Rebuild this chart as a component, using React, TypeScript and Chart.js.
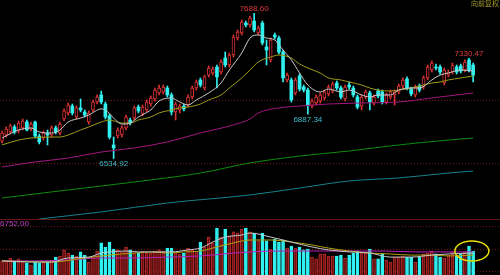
import React, { useEffect, useRef } from "react";
import { Chart, registerables } from "chart.js";

Chart.register(...registerables);

// ---------- layout of the index axis ----------
const SLOTS = 121;
const PRICE_MIN = 6055;
const PRICE_MAX = 7794;
const VOL_MIN = 0.844;
const VOL_MAX = 3.333;

// ---------- daily candles ----------
const opens = [
  6674, 6722, 6746, 6786, 6754, 6778, 6825, 6770, 6825, 6714,
  6698, 6738, 6722, 6778, 6738, 6849, 6897, 6952, 6865, 6937,
  6905, 6825, 6921, 6984, 7040, 6968, 6873, 6643, 6714, 6722,
  6778, 6841, 6857, 6944, 6889, 6921, 6968, 7008, 7056, 7064,
  7095, 7040, 6905, 6921, 6952, 6960, 7024, 7095, 7159, 7095,
  7198, 7214, 7262, 7222, 7333, 7278, 7357, 7492, 7532, 7611,
  7596, 7627, 7532, 7611, 7421, 7318, 7516, 7492, 7381, 7159,
  7159, 7056, 7191, 7103, 7079, 6952, 6976, 6992, 7016, 7048,
  7071, 7135, 7095, 7008, 7119, 7095, 7024, 6952, 7024, 7056,
  6976, 7071, 7064, 6984, 7024, 7040, 7064, 7111, 7167, 7087,
  7040, 7111, 7103, 7175, 7238, 7262, 7262, 7135, 7198, 7222,
  7262, 7270, 7238, 7318, 7278,
];
const highs = [
  6754, 6786, 6809, 6802, 6833, 6849, 6841, 6825, 6833, 6730,
  6754, 6762, 6794, 6794, 6825, 6929, 6976, 6968, 6952, 7008,
  6921, 6913, 7000, 7040, 7071, 6984, 6889, 6706, 6778, 6794,
  6881, 6857, 6952, 6960, 6960, 7000, 7032, 7095, 7119, 7119,
  7111, 7056, 6984, 6968, 6968, 7040, 7111, 7159, 7175, 7198,
  7270, 7262, 7278, 7318, 7381, 7373, 7516, 7556, 7635, 7627,
  7667, 7688.6, 7588, 7627, 7476, 7492, 7532, 7508, 7397, 7214,
  7175, 7175, 7206, 7119, 7095, 7008, 7040, 7056, 7079, 7119,
  7143, 7151, 7111, 7119, 7143, 7111, 7040, 7040, 7079, 7071,
  7040, 7087, 7079, 7056, 7079, 7079, 7127, 7175, 7183, 7103,
  7119, 7127, 7191, 7278, 7310, 7286, 7278, 7254, 7238, 7294,
  7278, 7286, 7318, 7330.47, 7294,
];
const lows = [
  6659, 6706, 6730, 6730, 6738, 6762, 6754, 6754, 6698, 6651,
  6682, 6643, 6706, 6730, 6722, 6833, 6881, 6881, 6849, 6905,
  6865, 6809, 6905, 6968, 6968, 6849, 6690, 6534.92, 6698, 6706,
  6762, 6802, 6841, 6897, 6873, 6905, 6952, 6992, 7040, 7048,
  7024, 6881, 6841, 6897, 6913, 6944, 7008, 7079, 7103, 7079,
  7183, 7198, 7095, 7206, 7262, 7262, 7341, 7476, 7516, 7580,
  7580, 7540, 7516, 7437, 7278, 7302, 7484, 7365, 7143, 7143,
  6984, 7040, 7071, 7064, 6887.34, 6937, 6960, 6976, 7000, 7032,
  7056, 7079, 7008, 6992, 7087, 7024, 6929, 6921, 7008, 6921,
  6960, 7016, 6968, 6968, 7008, 6960, 7048, 7095, 7079, 7032,
  7024, 7064, 7087, 7159, 7222, 7238, 7206, 7119, 7183, 7206,
  7206, 7214, 7222, 7222, 7143,
];
const closes = [
  6738, 6770, 6794, 6746, 6817, 6833, 6762, 6809, 6714, 6667,
  6738, 6722, 6778, 6746, 6809, 6913, 6960, 6897, 6937, 6921,
  6881, 6897, 6984, 7024, 6984, 6865, 6706, 6619, 6762, 6778,
  6865, 6817, 6937, 6913, 6944, 6984, 7016, 7079, 7095, 7103,
  7040, 6905, 6968, 6952, 6929, 7024, 7095, 7143, 7119, 7183,
  7254, 7246, 7183, 7302, 7278, 7357, 7500, 7540, 7619, 7596,
  7651, 7556, 7572, 7453, 7397, 7476, 7500, 7381, 7175, 7198,
  7000, 7159, 7087, 7079, 6960, 6992, 7024, 7040, 7064, 7103,
  7127, 7095, 7024, 7103, 7103, 7040, 6944, 7024, 7064, 6984,
  7024, 7032, 6984, 7040, 7064, 7064, 7111, 7159, 7095, 7048,
  7103, 7079, 7175, 7262, 7294, 7254, 7222, 7238, 7222, 7278,
  7222, 7230, 7302, 7238, 7198,
];
const volumes = [
  1.47, 1.47, 1.6, 1.47, 1.56, 1.47, 1.38, 1.29, 1.42, 1.38,
  1.42, 1.42, 1.51, 1.64, 1.69, 1.96, 1.82, 1.73, 1.69, 1.87,
  1.73, 1.42, 1.64, 1.91, 2.27, 2.09, 2.31, 2.0, 1.96, 1.87,
  2.09, 1.96, 1.82, 1.82, 1.87, 1.82, 1.82, 1.91, 1.96, 1.91,
  2.04, 2.04, 1.82, 1.78, 1.82, 2.04, 1.96, 1.87, 2.31, 2.09,
  2.53, 2.27, 2.93, 2.53, 2.89, 2.58, 2.76, 2.71, 2.89, 2.93,
  2.76, 2.71, 2.36, 2.71, 2.36, 2.0, 2.44, 2.31, 2.4, 2.04,
  2.13, 2.04, 2.09, 1.96, 2.0, 1.64, 1.56, 1.78, 1.78, 1.69,
  1.69, 1.69, 1.73, 1.6, 1.73, 1.82, 1.91, 1.82, 1.87, 2.0,
  1.56, 1.56, 1.78, 1.51, 1.42, 1.64, 1.64, 1.69, 1.64, 1.64,
  1.42, 1.64, 1.78, 1.82, 1.91, 1.78, 1.64, 1.6, 1.73, 1.87,
  1.69, 1.78, 1.87, 2.13, 1.91,
];

// ---------- moving averages: [day index, value] ----------
const maShort = [
  [0, 6698], [4, 6762], [7, 6778], [9, 6746], [12, 6738], [14, 6762], [16, 6825],
  [19, 6857], [21, 6881], [24, 6929], [25, 6921], [27, 6857], [29, 6809], [31, 6817],
  [33, 6865], [36, 6921], [38, 6992], [41, 7016], [43, 6984], [45, 6960], [47, 7000],
  [50, 7056], [53, 7135], [55, 7238], [58, 7373], [60, 7492], [62, 7516], [64, 7492],
  [66, 7476], [68, 7397], [70, 7318], [72, 7214], [74, 7119], [77, 7064], [79, 7087],
  [82, 7064], [84, 7079], [87, 7040], [89, 7024], [91, 7040], [94, 7040], [96, 7079],
  [99, 7095], [101, 7095], [104, 7159], [106, 7198], [108, 7214], [111, 7238], [114, 7230],
];
const maMid = [
  [0, 6643], [4, 6682], [7, 6698], [12, 6706], [14, 6706], [16, 6722], [19, 6762],
  [21, 6786], [24, 6825], [26, 6841], [29, 6817], [31, 6817], [33, 6841], [36, 6865],
  [38, 6897], [41, 6921], [43, 6937], [45, 6944], [48, 6968], [50, 7000], [53, 7040],
  [55, 7095], [58, 7175], [60, 7238], [62, 7302], [65, 7341], [67, 7357], [70, 7333],
  [72, 7286], [74, 7254], [77, 7214], [79, 7175], [82, 7159], [84, 7143], [87, 7119],
  [89, 7095], [91, 7079], [94, 7071], [96, 7079], [99, 7095], [101, 7111], [104, 7135],
  [106, 7143], [108, 7159], [111, 7175], [114, 7191],
];
const maLong = [
  [0, 6468], [8, 6508], [16, 6539], [24, 6587], [32, 6619], [40, 6667], [48, 6738],
  [56, 6802], [60, 6849], [62, 6897], [67, 6937], [72, 6952], [79, 6968], [87, 6976],
  [96, 6984], [104, 7016], [108, 7032], [114, 7056],
];
const maYear = [
  [0, 6222], [12, 6270], [24, 6317], [36, 6365], [48, 6420], [60, 6500],
  [72, 6555], [84, 6595], [96, 6643], [108, 6682], [114, 6698],
];
const maTwoYear = [
  [9, 6055], [24, 6111], [40, 6182], [60, 6246], [72, 6301], [84, 6357],
  [96, 6381], [108, 6420], [114, 6436],
];
const volMaShort = [
  [0, 1.47], [7, 1.42], [12, 1.42], [16, 1.6], [21, 1.64], [24, 1.82], [26, 1.87],
  [30, 1.91], [33, 1.87], [37, 1.87], [41, 1.87], [45, 1.96], [48, 2.04], [51, 2.31],
  [54, 2.53], [58, 2.62], [60, 2.71], [65, 2.53], [70, 2.31], [75, 2.09], [79, 1.96],
  [84, 1.87], [89, 1.82], [94, 1.64], [99, 1.64], [104, 1.73], [108, 1.78], [114, 1.82],
];
const volMaMid = [
  [0, 1.47], [12, 1.42], [20, 1.6], [26, 1.73], [32, 1.82], [36, 1.87], [40, 1.82],
  [44, 1.87], [48, 1.91], [52, 2.09], [56, 2.27], [60, 2.4], [65, 2.4], [70, 2.31],
  [75, 2.18], [79, 2.04], [84, 1.91], [89, 1.82], [94, 1.78], [99, 1.73], [104, 1.73],
  [108, 1.69], [114, 1.73],
];
const volMaLong = [
  [0, 1.47], [8, 1.47], [16, 1.51], [24, 1.6], [32, 1.6], [40, 1.64], [48, 1.69],
  [56, 1.82], [60, 1.87], [68, 1.91], [76, 1.91], [84, 1.91], [92, 1.91], [100, 1.87],
  [114, 1.87],
];

// ---------- guides and texts ----------
const priceGuides = [7000, 6500];
const volGuides = [1, 2, 3];
const extremeMarks: [number, string][] = [[61, "high"], [27, "low"], [74, "low"], [113, "high"]];
const cornerTitle = "向前复权";
const volumeTag = "6752.00";
const ellipseCenter = [113.7, 1.91];

// ---------- colours ----------
const UP = "#d83232";
const DOWN = "#30f0f0";
const GUIDE = "#7a1616";

const labels = Array.from({ length: SLOTS }, (_, i) => String(i));
const isUp = opens.map((o, i) => closes[i] >= o);

function sparse(pts: number[][]) {
  const arr: (number | null)[] = new Array(SLOTS).fill(null);
  pts.forEach(([i, v]) => {
    arr[i] = v;
  });
  return arr;
}

function lineSet(pts: number[][], color: string, order: number) {
  return {
    type: "line" as const,
    data: sparse(pts),
    borderColor: color,
    borderWidth: 1,
    pointRadius: 0,
    spanGaps: true,
    fill: false,
    cubicInterpolationMode: "monotone" as const,
    order,
  };
}

const baseOptions = (min: number, max: number) => ({
  animation: false as const,
  responsive: false,
  maintainAspectRatio: false,
  devicePixelRatio: 1,
  events: [] as any[],
  layout: { padding: 0 },
  plugins: { legend: { display: false }, tooltip: { enabled: false } },
  scales: {
    x: { type: "category" as const, display: false, offset: true },
    y: { type: "linear" as const, display: false, min, max },
  },
});

const pricePlugin = {
  id: "priceOverlay",
  beforeDatasetsDraw(chart: any) {
    const { ctx, chartArea, scales } = chart;
    ctx.save();
    ctx.strokeStyle = GUIDE;
    ctx.lineWidth = 1;
    ctx.setLineDash([1, 2]);
    priceGuides.forEach((v) => {
      const py = Math.round(scales.y.getPixelForValue(v)) + 0.5;
      ctx.beginPath();
      ctx.moveTo(chartArea.left, py);
      ctx.lineTo(chartArea.right, py);
      ctx.stroke();
    });
    ctx.restore();
  },
  afterDatasetsDraw(chart: any) {
    const { ctx, scales } = chart;
    ctx.save();
    ctx.font = "8px 'Liberation Sans'";
    ctx.textAlign = "center";
    extremeMarks.forEach(([idx, kind]) => {
      const px = scales.x.getPixelForValue(idx);
      if (kind === "high") {
        const v = highs[idx];
        ctx.fillStyle = "#e03c3c";
        ctx.textBaseline = "bottom";
        ctx.fillText(v.toFixed(2), px, scales.y.getPixelForValue(v) - 0.5);
      } else {
        const v = lows[idx];
        ctx.fillStyle = "#3cbccc";
        ctx.textBaseline = "top";
        ctx.fillText(v.toFixed(2), px, scales.y.getPixelForValue(v) + 1.5);
      }
    });
    ctx.font = "7px 'Noto Sans CJK SC'";
    ctx.textAlign = "right";
    ctx.textBaseline = "middle";
    ctx.fillStyle = "#a49c2a";
    ctx.fillText(cornerTitle, 499, 3);
    ctx.restore();
  },
};

const volPlugin = {
  id: "volOverlay",
  beforeDatasetsDraw(chart: any) {
    const { ctx, chartArea, scales } = chart;
    ctx.save();
    ctx.strokeStyle = "#6a1414";
    ctx.lineWidth = 1;
    ctx.beginPath();
    ctx.moveTo(chartArea.left, chartArea.top + 0.5);
    ctx.lineTo(chartArea.right, chartArea.top + 0.5);
    ctx.stroke();
    ctx.strokeStyle = GUIDE;
    ctx.setLineDash([1, 2]);
    volGuides.forEach((v) => {
      const py = Math.round(scales.y.getPixelForValue(v)) + 0.5;
      ctx.beginPath();
      ctx.moveTo(chartArea.left, py);
      ctx.lineTo(chartArea.right, py);
      ctx.stroke();
    });
    ctx.restore();
  },
  afterDatasetsDraw(chart: any) {
    const { ctx, scales } = chart;
    ctx.save();
    ctx.font = "8px 'Liberation Sans'";
    ctx.textAlign = "left";
    ctx.textBaseline = "middle";
    ctx.fillStyle = "#c040c8";
    ctx.fillText(volumeTag, 0, 4.5);
    ctx.strokeStyle = "#e8e000";
    ctx.lineWidth = 1.5;
    ctx.beginPath();
    ctx.ellipse(
      scales.x.getPixelForValue(ellipseCenter[0]),
      scales.y.getPixelForValue(ellipseCenter[1]),
      17,
      10,
      0,
      0,
      Math.PI * 2
    );
    ctx.stroke();
    ctx.restore();
  },
};

export default function App() {
  const priceRef = useRef<HTMLCanvasElement>(null);
  const volRef = useRef<HTMLCanvasElement>(null);

  useEffect(() => {
    const priceChart = new Chart(priceRef.current as HTMLCanvasElement, {
      type: "bar",
      data: {
        labels,
        datasets: [
          {
            type: "bar",
            data: lows.map((l, i) => [l, highs[i]]),
            backgroundColor: isUp.map((u) => (u ? UP : DOWN)),
            barThickness: 1,
            grouped: false,
            order: 9,
          } as any,
          {
            type: "bar",
            data: opens.map((o, i) => [o, closes[i]]),
            backgroundColor: isUp.map((u) => (u ? "#000000" : DOWN)),
            borderColor: isUp.map((u) => (u ? UP : DOWN)),
            borderWidth: isUp.map((u) => (u ? 1 : 0)),
            borderSkipped: false,
            barThickness: 3,
            minBarLength: 1,
            grouped: false,
            order: 8,
          } as any,
          lineSet(maTwoYear, "#12828c", 5),
          lineSet(maYear, "#0c8c0c", 4),
          lineSet(maLong, "#a0187e", 3),
          lineSet(maMid, "#a09c16", 2),
          lineSet(maShort, "#c8c8c8", 1),
        ],
      },
      options: baseOptions(PRICE_MIN, PRICE_MAX) as any,
      plugins: [pricePlugin],
    });

    const volChart = new Chart(volRef.current as HTMLCanvasElement, {
      type: "bar",
      data: {
        labels,
        datasets: [
          {
            type: "bar",
            data: volumes,
            backgroundColor: isUp.map((u) => (u ? "#6a1212" : DOWN)),
            borderColor: isUp.map((u) => (u ? "#b82a2a" : DOWN)),
            borderWidth: 1,
            borderSkipped: false,
            barThickness: 3,
            grouped: false,
            order: 8,
          } as any,
          lineSet(volMaLong, "#b820b8", 3),
          lineSet(volMaMid, "#b0a010", 2),
          lineSet(volMaShort, "#c8c8c8", 1),
        ],
      },
      options: baseOptions(VOL_MIN, VOL_MAX) as any,
      plugins: [volPlugin],
    });

    return () => {
      priceChart.destroy();
      volChart.destroy();
    };
  }, []);

  return (
    <div
      style={{
        position: "fixed",
        left: 0,
        top: 0,
        width: 500,
        height: 275,
        background: "#000",
        overflow: "hidden",
      }}
    >
      <canvas
        ref={priceRef}
        width={500}
        height={219}
        style={{ position: "absolute", left: 0, top: 0, width: 500, height: 219 }}
      />
      <canvas
        ref={volRef}
        width={500}
        height={56}
        style={{ position: "absolute", left: 0, top: 219, width: 500, height: 56 }}
      />
    </div>
  );
}
